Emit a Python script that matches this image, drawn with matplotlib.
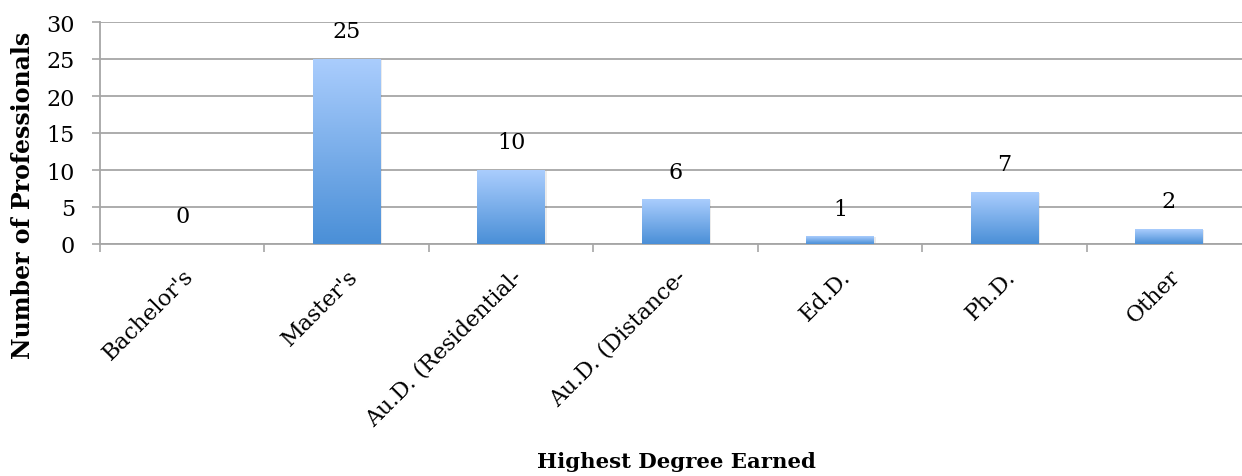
#!/usr/bin/env python3
"""Bar chart of highest degree earned by surveyed professionals."""
import matplotlib
matplotlib.use("Agg")
import matplotlib.pyplot as plt
import numpy as np
from matplotlib.colors import LinearSegmentedColormap
from matplotlib.patches import Rectangle

DEGREES = ["Bachelor's", "Master's", "Au.D. (Residential-", "Au.D. (Distance-",
           "Ed.D.", "Ph.D.", "Other"]
COUNTS = [0, 25, 10, 6, 1, 7, 2]
Y_TICKS = [0, 5, 10, 15, 20, 25, 30]

plt.rcParams["font.family"] = ["DejaVu Serif"]

GRID = "#a6a6a6"
bar_cmap = LinearSegmentedColormap.from_list("bar", ["#4a8fd7", "#aacdfd"])

fig = plt.figure(figsize=(12.42, 4.77), dpi=100)
# plot area runs a little past the right edge of the canvas
ax = fig.add_axes([100 / 1242, 232 / 477, 1151 / 1242, 222 / 477])

x = np.arange(len(DEGREES))
width = 0.41
grad = np.linspace(0, 1, 256).reshape(-1, 1)

for xi, val in zip(x, COUNTS):
    if val > 0:
        # soft shadow, then the gradient body
        ax.add_patch(Rectangle((xi - width / 2 + 0.012, 0), width, val - 0.08,
                               facecolor="#000000", alpha=0.08, lw=0, zorder=2))
        ax.imshow(grad, cmap=bar_cmap, origin="lower", aspect="auto",
                  extent=(xi - width / 2, xi + width / 2, 0, val), zorder=3,
                  interpolation="bilinear")
    ax.annotate(str(val), (xi, val), xytext=(0, 20), textcoords="offset points",
                ha="center", va="center", fontsize=16)

ax.set_xlim(-0.5, len(DEGREES) - 0.5)
ax.set_ylim(0, 30)
ax.set_yticks(Y_TICKS)
ax.tick_params(axis="y", labelsize=16, length=6, width=1.2, color=GRID, pad=12)

# ticks between categories, labels at category centres
ax.set_xticks(np.arange(len(DEGREES) + 1) - 0.5)
ax.set_xticklabels([])
ax.tick_params(axis="x", which="major", length=6, width=1.2, color=GRID, direction="out")
ax.set_xticks(x, minor=True)
ax.set_xticklabels(DEGREES, minor=True, rotation=45, ha="right",
                   rotation_mode="anchor", fontsize=16)
ax.tick_params(axis="x", which="minor", length=0, pad=15)

ax.yaxis.grid(True, color=GRID, linewidth=1.3)
ax.set_axisbelow(True)
for side in ["top", "right"]:
    ax.spines[side].set_visible(False)
for side in ["left", "bottom"]:
    ax.spines[side].set_color(GRID)
    ax.spines[side].set_linewidth(1.3)

fig.text(23 / 1242, 1 - 195 / 477, "Number of Professionals", rotation=90,
         ha="center", va="center", fontsize=17, fontweight="bold")
fig.text(676 / 1242, 1 - 462 / 477, "Highest Degree Earned",
         ha="center", va="center", fontsize=15.3, fontweight="bold")

fig.savefig("out.png", dpi=100)
plt.close()
